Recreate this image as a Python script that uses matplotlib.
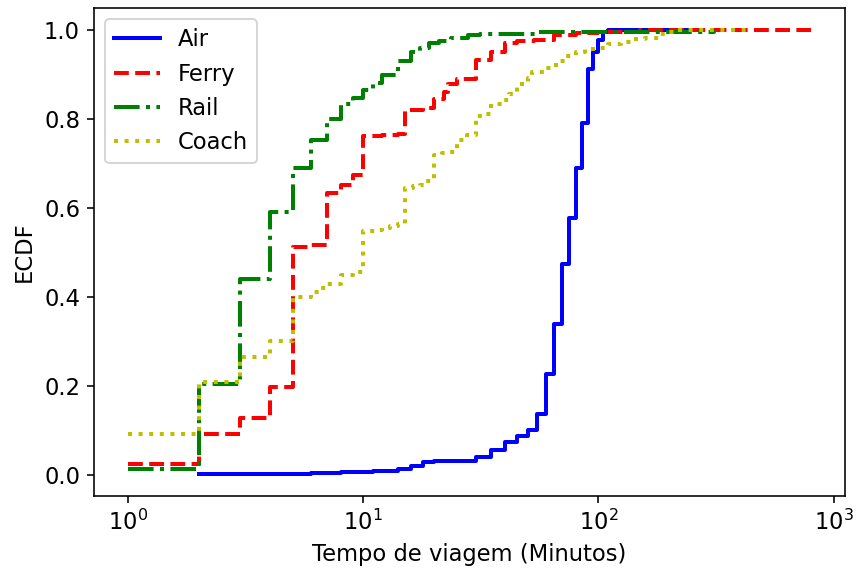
import numpy as np
import matplotlib
matplotlib.use("Agg")
import matplotlib.pyplot as plt

# Tempos de viagem (minutos) e ECDF
air_t = [2, 6, 8, 11, 14, 16, 18, 20, 30, 35, 40, 45, 50, 55, 60, 65, 70, 75,
         80, 85, 90, 95, 100, 105, 110, 250]
air_y = [0.002, 0.004, 0.006, 0.009, 0.013, 0.020, 0.028, 0.031, 0.039, 0.056,
         0.073, 0.086, 0.101, 0.136, 0.226, 0.339, 0.473, 0.577, 0.691, 0.792,
         0.912, 0.952, 0.978, 0.995, 1.0, 1.0]

ferry_t = [1, 2, 3, 4, 5, 6, 7, 8, 9, 10, 12, 14, 15, 18, 20, 22, 23, 25, 30,
           35, 40, 45, 53, 65, 80, 100, 150, 800]
ferry_y = [0.023, 0.092, 0.128, 0.198, 0.512, 0.517, 0.634, 0.651, 0.675,
           0.761, 0.765, 0.767, 0.820, 0.824, 0.846, 0.862, 0.880, 0.891,
           0.932, 0.950, 0.971, 0.975, 0.977, 0.989, 0.993, 0.995, 1.0, 1.0]

rail_t = [1, 2, 3, 4, 5, 6, 7, 8, 9, 10, 11, 12, 14, 16, 17.5, 19, 21, 23.5,
          28, 31.5, 55, 310]
rail_y = [0.012, 0.205, 0.44, 0.59, 0.69, 0.754, 0.80, 0.833, 0.848, 0.865,
          0.882, 0.90, 0.931, 0.95, 0.961, 0.971, 0.976, 0.983, 0.989, 0.992,
          0.996, 1.0]

coach_t = [1, 2, 3, 4, 5, 6, 6.5, 7, 8, 9, 10, 11.3, 12, 13, 14, 15, 16.3,
           17.5, 18.5, 20, 21.7, 23, 25, 27.6, 30, 33, 35, 39, 41.5, 45, 50,
           52, 59, 66, 73, 80, 88, 97, 110, 125, 140, 157, 180, 200, 215, 430]
coach_y = [0.092, 0.208, 0.265, 0.30, 0.40, 0.41, 0.42, 0.43, 0.45, 0.455,
           0.549, 0.551, 0.555, 0.56, 0.564, 0.645, 0.649, 0.652, 0.66, 0.719,
           0.724, 0.726, 0.754, 0.765, 0.807, 0.812, 0.833, 0.844, 0.856,
           0.878, 0.893, 0.905, 0.916, 0.931, 0.942, 0.95, 0.957, 0.961,
           0.968, 0.974, 0.98, 0.983, 0.991, 0.995, 1.0, 1.0]

plt.rcParams['font.size'] = 11.3

fig, ax = plt.subplots(figsize=(856 / 144, 568 / 144), dpi=144)
fig.subplots_adjust(left=94 / 856, right=845 / 856, bottom=1 - 496 / 568,
                    top=1 - 8 / 568)

ax.step(air_t, air_y, 'b-', where='post', lw=2, label='Air')
ax.step(ferry_t, ferry_y, 'r--', where='post', lw=2, label='Ferry')
ax.step(rail_t, rail_y, 'g-.', where='post', lw=2, label='Rail')
ax.step(coach_t, coach_y, 'y:', where='post', lw=2, label='Coach')

ax.set_xscale('log')
ax.xaxis.set_minor_locator(matplotlib.ticker.NullLocator())
ax.set_xlabel('Tempo de viagem (Minutos)')
ax.set_ylabel('ECDF')
ax.legend(loc='upper left')

fig.savefig('out.png', dpi=144)
